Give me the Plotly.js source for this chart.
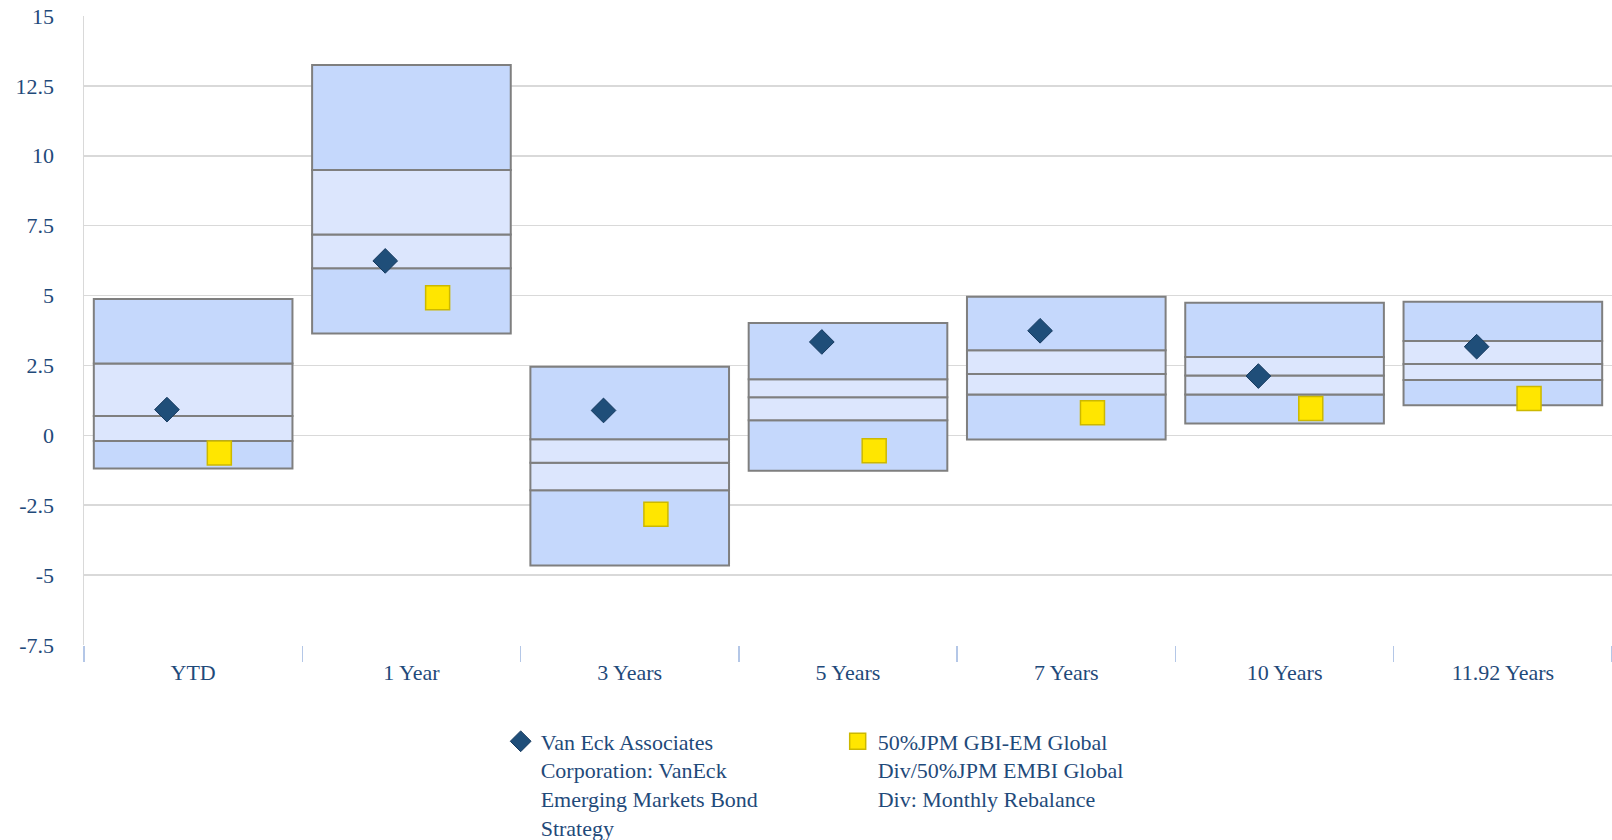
<!DOCTYPE html>
<html><head><meta charset="utf-8">
<script src="https://cdn.plot.ly/plotly-3.0.1.min.js"></script>
<style>html,body{margin:0;padding:0;background:#fff}#chart{width:1612px;height:840px}</style>
</head><body><div id="chart"></div>
<script>
const categories  = ["YTD","1 Year","3 Years","5 Years","7 Years","10 Years","11.92 Years"];
const rangeTop    = [4.88, 13.25, 2.45, 4.02, 4.96, 4.74, 4.78];
const rangeQ1     = [2.57, 9.49, -0.14, 2.01, 3.04, 2.80, 3.37];
const rangeMed    = [0.69, 7.18, -0.98, 1.36, 2.19, 2.14, 2.55];
const rangeQ3     = [-0.20, 5.98, -1.96, 0.54, 1.46, 1.46, 1.98];
const rangeBottom = [-1.19, 3.64, -4.66, -1.27, -0.15, 0.42, 1.08];
const vanEck      = [0.92, 6.24, 0.89, 3.34, 3.74, 2.12, 3.17];
const benchmark   = [-0.63, 4.92, -2.82, -0.55, 0.81, 0.96, 1.32];
const yTickVals   = [15, 12.5, 10, 7.5, 5, 2.5, 0, -2.5, -5, -7.5];
const yTickText   = ["15","12.5","10","7.5","5","2.5","0","-2.5","-5","-7.5"];
const seriesNames = ["Van Eck Associates<br>Corporation: VanEck<br>Emerging Markets Bond<br>Strategy",
                     "50%JPM GBI-EM Global<br>Div/50%JPM EMBI Global<br>Div: Monthly Rebalance"];

const DARK = '#c5d8fc', LIGHT = '#dce6fd', EDGE = '#7f7f7f';
const TXT = '#1f4a7a';
const FONT = 'Liberation Serif, Times New Roman, serif';
const FS = 22;

function seg(lo, hi, color) {
  return {
    type: 'bar', x: categories, base: lo,
    y: hi.map((v, i) => v - lo[i]),
    width: 0.91,
    marker: {color: color, line: {color: EDGE, width: 2}},
    showlegend: false, hoverinfo: 'skip'
  };
}

const OFF = 0.12;
const traces = [
  seg(rangeBottom, rangeQ3, DARK),
  seg(rangeQ3, rangeMed, LIGHT),
  seg(rangeMed, rangeQ1, LIGHT),
  seg(rangeQ1, rangeTop, DARK),
  {
    type: 'scatter', mode: 'markers', xaxis: 'x2', yaxis: 'y',
    x: categories.map((_, i) => i - OFF), y: vanEck,
    name: seriesNames[0],
    marker: {symbol: 'diamond', size: 19, color: '#1f4e79', line: {color: '#163a5f', width: 1}}
  },
  {
    type: 'scatter', mode: 'markers', xaxis: 'x2', yaxis: 'y',
    x: categories.map((_, i) => i + OFF), y: benchmark,
    name: seriesNames[1],
    marker: {symbol: 'square', size: 24, color: '#ffe600', line: {color: '#ccb800', width: 1.5}}
  }
];

const layout = {
  width: 1612, height: 840,
  margin: {l: 84, r: 0, t: 16, b: 195, autoexpand: false},
  paper_bgcolor: '#ffffff', plot_bgcolor: '#ffffff',
  barmode: 'overlay',
  font: {family: FONT, size: FS, color: TXT},
  xaxis: {
    type: 'category', range: [-0.5, 6.5], tickson: 'boundaries',
    ticks: 'outside', ticklen: 16, tickwidth: 1.5, tickcolor: '#b4c7e7',
    ticklabelstandoff: 12, automargin: false,
    showgrid: false, showline: false, zeroline: false,
    tickfont: {family: FONT, size: FS, color: TXT}
  },
  xaxis2: {overlaying: 'x', range: [-0.5, 6.5], visible: false},
  yaxis: {
    range: [-7.5, 15], tickmode: 'array', tickvals: yTickVals, ticktext: yTickText,
    showgrid: true, gridcolor: '#d9d9d9', gridwidth: 1.5, automargin: false,
    zeroline: false, showline: true, linecolor: '#d9d9d9', linewidth: 1.5,
    ticks: '', ticklabelstandoff: 24,
    tickfont: {family: FONT, size: FS, color: TXT}
  },
  showlegend: true,
  legend: {
    orientation: 'h', x: 0.2727, xanchor: 'left', y: -0.12, yanchor: 'top',
    valign: 'top', entrywidth: 292, entrywidthmode: 'pixels',
    font: {family: FONT, size: FS, color: TXT}, bgcolor: 'rgba(0,0,0,0)'
  }
};

Plotly.newPlot('chart', traces, layout, {displayModeBar: false, staticPlot: true});
</script>
</body></html>
